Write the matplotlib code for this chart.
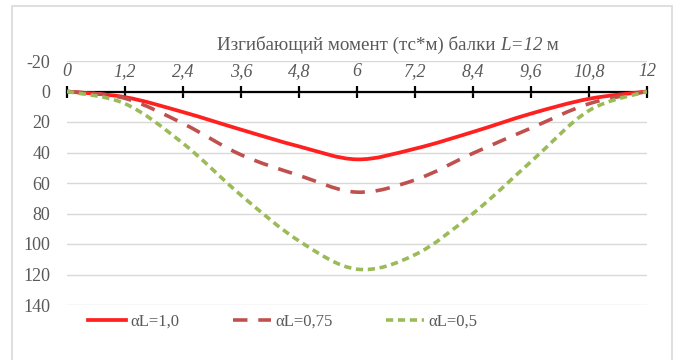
import numpy as np
import matplotlib.pyplot as plt
from matplotlib.path import Path
from matplotlib.patches import PathPatch, Rectangle
from matplotlib.lines import Line2D
from matplotlib.offsetbox import TextArea, HPacker, AnchoredOffsetbox

# data
x = [0, 1.2, 2.4, 3.6, 4.8, 6, 7.2, 8.4, 9.6, 10.8, 12]
x_labels = ['0', '1,2', '2,4', '3,6', '4,8', '6', '7,2', '8,4', '9,6', '10,8', '12']
m_10 = [0, 3.7, 13.5, 25, 36, 44.5, 37.5, 26.5, 14.5, 4.8, 0]
m_075 = [0, 4.5, 21, 41.5, 55, 66, 58, 40.5, 24, 8, 0]
m_05 = [0, 8, 34, 68, 98, 116.5, 107, 80, 46, 12.5, 0]
names = ['αL=1,0', 'αL=0,75', 'αL=0,5']
y_ticks = [-20, 0, 20, 40, 60, 80, 100, 120, 140]

GRAY = '#595959'


def smooth_path(xs, ys):
    # Excel-like smoothed line: cubic Bezier through every point
    p = np.column_stack([xs, ys]).astype(float)
    verts = [p[0]]
    codes = [Path.MOVETO]
    n = len(p)
    for i in range(n - 1):
        p0 = p[i - 1] if i > 0 else p[i]
        p3 = p[i + 2] if i + 2 < n else p[i + 1]
        c1 = p[i] + (p[i + 1] - p0) / 6
        c2 = p[i + 1] - (p3 - p[i]) / 6
        verts += [c1, c2, p[i + 1]]
        codes += [Path.CURVE4] * 3
    return Path(verts, codes)


plt.rcParams['font.family'] = 'Liberation Serif'

fig = plt.figure(figsize=(6.8, 3.6), dpi=100)
fig.patches.append(Rectangle((12 / 680, -0.05), 660 / 680, 1.05 - 6 / 360,
                             transform=fig.transFigure, fill=False,
                             edgecolor='#d9d9d9', lw=1.2))
ax = fig.add_axes([67 / 680, 1 - 305 / 360, 580 / 680, 244 / 360])

styles = [
    dict(color='#ff2020', lw=2.7, linestyle='-'),
    dict(color='#c0504d', lw=2.6, linestyle=(0, (4, 3))),
    dict(color='#9bbb59', lw=2.6, linestyle=(0, (2, 1.3))),
]
handles = []
for ys, st, name in zip([m_10, m_075, m_05], styles, names):
    ax.add_patch(PathPatch(smooth_path(x, ys), fill=False, capstyle='butt', zorder=3, **st))
    handles.append(Line2D([], [], label=name, **st))

ax.set_xlim(0, 12)
ax.set_ylim(140, -20)
ax.set_yticks(y_ticks)
ax.set_yticklabels([str(v) for v in y_ticks])
ax.grid(axis='y', color='#d9d9d9', lw=1)
ax.set_axisbelow(True)

for s in ['left', 'right', 'bottom']:
    ax.spines[s].set_visible(False)
ax.spines['top'].set_position(('data', 0))
ax.spines['top'].set_color('black')
ax.spines['top'].set_linewidth(1.6)
ax.spines['top'].set_zorder(2)
ax.xaxis.set_ticks_position('top')
ax.set_xticks(x)
ax.set_xticklabels(x_labels, fontstyle='italic')
ax.tick_params(axis='x', direction='inout', length=9, width=1.6, pad=4,
               labelsize=13, labelcolor=GRAY)
ax.tick_params(axis='y', length=0, pad=12, labelsize=13, labelcolor=GRAY)

# title with an italic "L=12"
tprops = dict(fontsize=13.7, color=GRAY)
parts = [TextArea('Изгибающий момент (тс*м) балки ', textprops=tprops),
         TextArea('L=12', textprops=dict(fontstyle='italic', **tprops)),
         TextArea(' м', textprops=tprops)]
title = AnchoredOffsetbox(loc='center', child=HPacker(children=parts, pad=0, sep=0, align='baseline'),
                          bbox_to_anchor=(388 / 680, 1 - 45 / 360), bbox_transform=fig.transFigure,
                          frameon=False, pad=0, borderpad=0)
fig.add_artist(title)

fig.legend(handles=handles, loc='center left', bbox_to_anchor=(73 / 680, 1 - 322 / 360),
           ncol=3, frameon=False, fontsize=12, handlelength=2.3, handletextpad=0.25,
           columnspacing=3.2, labelcolor=GRAY)

fig.savefig('out.png', dpi=100)
